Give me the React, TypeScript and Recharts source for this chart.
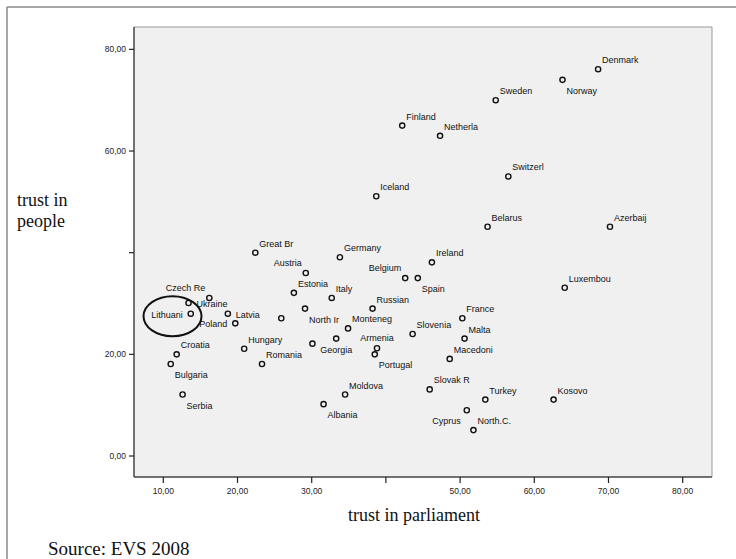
import React from 'react';
import {
  ScatterChart,
  Scatter,
  XAxis,
  YAxis,
  CartesianGrid,
  ReferenceLine,
  ReferenceDot
} from 'recharts';

// EVS 2008 — country values
const countries = [
  'Denmark', 'Norway', 'Sweden', 'Finland', 'Netherla', 'Switzerl', 'Iceland', 'Belarus',
  'Azerbaij', 'Great Br', 'Germany', 'Ireland', 'Austria', 'Belgium', 'Spain', 'Luxembou',
  'Estonia', 'Italy', 'Czech Re', 'Ukraine', 'Lithuani', 'Latvia', 'Poland', '',
  'North Ir', 'Russian', 'France', 'Monteneg', 'Slovenia', 'Malta', 'Georgia', '',
  'Armenia', 'Portugal', 'Hungary', 'Croatia', 'Macedoni', 'Romania', 'Bulgaria', 'Slovak R',
  'Moldova', 'Serbia', 'Turkey', 'Kosovo', 'Albania', 'Cyprus', 'North.C.'
];

const trustParliament = [
  68.6, 63.8, 54.8, 42.2, 47.3, 56.5, 38.7, 53.7,
  70.2, 22.4, 33.8, 46.2, 29.2, 42.6, 44.3, 64.1,
  27.6, 32.7, 16.2, 13.4, 13.7, 18.7, 19.7, 25.9,
  29.1, 38.2, 50.3, 34.9, 43.6, 50.6, 33.3, 30.1,
  38.8, 38.5, 20.9, 11.8, 48.6, 23.3, 11.0, 45.9,
  34.5, 12.6, 53.4, 62.6, 31.6, 50.9, 51.8
];

const trustPeople = [
  76.1, 74.0, 70.0, 65.0, 63.0, 55.0, 51.1, 45.1,
  45.1, 40.0, 39.1, 38.1, 36.0, 35.0, 35.0, 33.1,
  32.1, 31.1, 31.1, 30.1, 28.0, 28.0, 26.1, 27.1,
  29.0, 29.0, 27.1, 25.1, 24.0, 23.1, 23.1, 22.1,
  21.2, 20.0, 21.1, 20.0, 19.1, 18.1, 18.1, 13.1,
  12.1, 12.1, 11.1, 11.1, 10.2, 9.0, 5.1
];

// which side of the marker each label sits on
const labelSide = [
  'ur', 'dr', 'ur', 'ur', 'ur', 'ur', 'ur', 'ur',
  'ur', 'ur', 'ur', 'ur', 'ul', 'ul', 'dr', 'ur',
  'ur', 'ur', 'ul', 'r', 'l', 'r', 'l', '',
  'dr', 'ur', 'ur', 'ur', 'ur', 'ur', 'd', '',
  'u', 'dr', 'ur', 'ur', 'ur', 'ur', 'dr', 'ur',
  'ur', 'dr', 'ur', 'ur', 'dr', 'dl', 'ur'
];

const xTicks = [10, 20, 30, 40, 50, 60, 70, 80];
const yTicks = [0, 20, 40, 60, 80];
const xDomain = [6.05, 83.95];
const yDomain = [-4.13, 84.4];

// the circled country
const highlight = { x: 11.24, y: 27.5 };

const points = countries.map((name, i) => ({
  name,
  side: labelSide[i],
  x: trustParliament[i],
  y: trustPeople[i]
}));

const nudge: Record<string, { dx: number; dy: number; anchor: string }> = {
  ur: { dx: 4, dy: -6, anchor: 'start' },
  dr: { dx: 4, dy: 14, anchor: 'start' },
  ul: { dx: -4, dy: -7, anchor: 'end' },
  dl: { dx: -6, dy: 14, anchor: 'end' },
  u: { dx: 0, dy: -7, anchor: 'middle' },
  d: { dx: 0, dy: 14, anchor: 'middle' },
  l: { dx: -8, dy: 4, anchor: 'end' },
  r: { dx: 8, dy: 4, anchor: 'start' }
};

const fmt = (v: number) => (v === 40 ? '' : v.toFixed(2).replace('.', ','));

const sans = '"Liberation Sans", Arial, sans-serif';
const serif = '"Liberation Serif", "Times New Roman", serif';

function Marker(props: any) {
  const { cx, cy, payload } = props;
  const n = nudge[payload.side];
  return (
    <g>
      <circle cx={cx} cy={cy} r={2.6} fill="none" stroke="#111" strokeWidth={1.4} />
      {n && payload.name ? (
        <text
          x={cx + n.dx}
          y={cy + n.dy}
          textAnchor={n.anchor as any}
          fontFamily={sans}
          fontSize={9}
          fill="#111"
        >
          {payload.name}
        </text>
      ) : null}
    </g>
  );
}

export default function App() {
  return (
    <div style={{ position: 'absolute', left: 0, top: 0, width: 736, height: 559, background: '#fff', overflow: 'hidden' }}>
      <ScatterChart width={736} height={559} margin={{ top: 27, right: 24, bottom: 52, left: 94 }}>
        <CartesianGrid fill="#f0f0f0" stroke="none" horizontal={false} vertical={false} />
        <XAxis
          type="number"
          dataKey="x"
          domain={xDomain}
          ticks={xTicks}
          tickFormatter={fmt}
          height={30}
          tickSize={6}
          tickMargin={5}
          axisLine={{ stroke: '#444', strokeWidth: 1.5 }}
          tickLine={{ stroke: '#222', strokeWidth: 1.2 }}
          tick={{ fill: '#222', fontSize: 8.5, fontFamily: sans }}
          allowDataOverflow
        />
        <YAxis
          type="number"
          dataKey="y"
          domain={yDomain}
          ticks={yTicks}
          tickFormatter={fmt}
          width={40}
          tickSize={5}
          tickMargin={3}
          axisLine={{ stroke: '#444', strokeWidth: 1.5 }}
          tickLine={{ stroke: '#222', strokeWidth: 1.2 }}
          tick={{ fill: '#222', fontSize: 8.5, fontFamily: sans }}
          allowDataOverflow
        />
        <ReferenceLine y={yDomain[1]} stroke="#999" strokeWidth={1} />
        <ReferenceLine x={xDomain[1]} stroke="#999" strokeWidth={1} />
        <Scatter data={points} shape={Marker} isAnimationActive={false} />
        <ReferenceDot
          x={highlight.x}
          y={highlight.y}
          shape={(p: any) => (
            <ellipse cx={p.cx} cy={p.cy} rx={29} ry={20} fill="none" stroke="#111" strokeWidth={2} />
          )}
        />
      </ScatterChart>
      <svg width={736} height={559} style={{ position: 'absolute', left: 0, top: 0, pointerEvents: 'none' }}>
        <line x1={7} y1={7} x2={736} y2={7} stroke="#888" strokeWidth={1.5} />
        <line x1={7} y1={7} x2={7} y2={559} stroke="#888" strokeWidth={1.5} />
        <text x={17} y={206} fontFamily={serif} fontSize={18} fill="#111">trust in</text>
        <text x={17} y={227} fontFamily={serif} fontSize={18} fill="#111">people</text>
        <text x={414} y={521} textAnchor="middle" fontFamily={serif} fontSize={18} fill="#111">trust in parliament</text>
        <text x={48} y={555} fontFamily={serif} fontSize={19} fill="#111">Source: EVS 2008</text>
      </svg>
    </div>
  );
}
